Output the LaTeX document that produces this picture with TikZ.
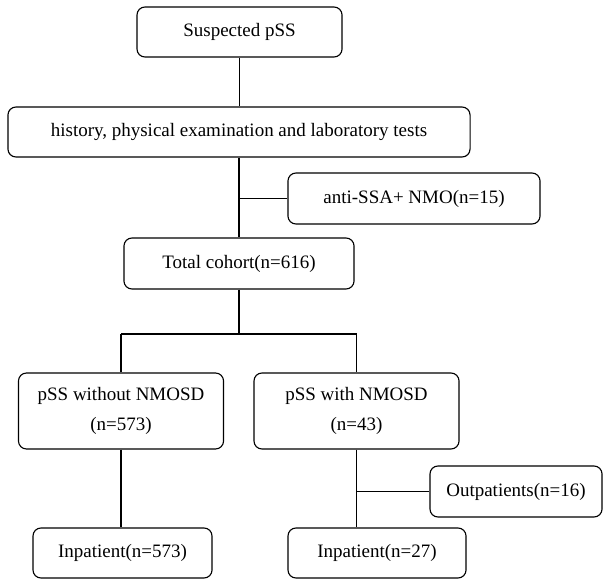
\documentclass[tikz,border=0pt]{standalone}
\usepackage{fontspec}
\setmainfont{Liberation Serif}
\tikzset{
  flowbox/.style={draw, rounded corners=0.2cm, line width=0.8pt, inner sep=2pt,
    font=\fontsize{13.5}{16}\selectfont, align=center},
  link/.style={line width=0.8pt}
}
\begin{document}
\begin{tikzpicture}[x=0.025cm,y=-0.025cm]
\useasboundingbox (0,0) rectangle (604,579);

\node[flowbox, minimum width=5.125cm, minimum height=1.25cm] (susp) at (239.5,32) {Suspected pSS};
\node[flowbox, minimum width=11.55cm, minimum height=1.25cm] (hist) at (239,132) {history, physical examination and laboratory tests};
\node[flowbox, minimum width=6.3cm, minimum height=1.275cm] (anti) at (414,198.5) {anti-SSA+ NMO(n=15)};
\node[flowbox, minimum width=5.75cm, minimum height=1.275cm] (total) at (239,263.5) {Total cohort(n=616)};

\node[flowbox, minimum width=5.125cm, minimum height=1.9cm] (without) at (121,411) {pSS without NMOSD\\[5pt](n=573)};
\node[flowbox, minimum width=5.125cm, minimum height=1.9cm] (with) at (356.5,411) {pSS with NMOSD\\[5pt](n=43)};

\node[flowbox, minimum width=4.3cm, minimum height=1.275cm] (outp) at (516,491.5) {Outpatients(n=16)};
\node[flowbox, minimum width=4.475cm, minimum height=1.25cm] (inpL) at (122.5,553) {Inpatient(n=573)};
\node[flowbox, minimum width=4.45cm, minimum height=1.25cm] (inpR) at (377,553) {Inpatient(n=27)};

\coordinate (bar) at (239,334);

\draw[link] (susp.south) -- (susp.south |- hist.north);
\draw[link] (hist.south) -- (hist.south |- total.north);
\draw[link] (hist.south |- anti.west) -- (anti.west);

\draw[link] (total.south) -- (bar);
\draw[link] (without.north |- bar) -- (with.north |- bar);
\draw[link] (without.north |- bar) -- (without.north);
\draw[link] (with.north |- bar) -- (with.north);

\draw[link] (without.south) -- (without.south |- inpL.north);
\draw[link] (with.south) -- (with.south |- inpR.north);
\draw[link] (with.south |- outp.west) -- (outp.west);
\end{tikzpicture}
\end{document}
